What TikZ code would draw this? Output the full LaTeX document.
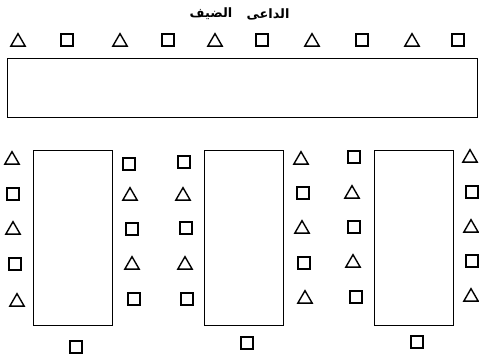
\documentclass[tikz,border=0pt]{standalone}
\usepackage{fontspec}
\newfontfamily\arabicfont[Script=Arabic]{DejaVu Sans}
\TeXXeTstate=1
\usetikzlibrary{shapes.geometric}

\begin{document}
\begin{tikzpicture}[x=0.03cm, y=-0.03cm, every node/.style={inner sep=0}, sq/.style={draw,line width=1.2pt,rectangle,minimum size=0.35cm}, tri/.style={draw,line width=1.2pt,regular polygon,regular polygon sides=3,minimum size=0.5cm}, desk/.style={draw,line width=0.8pt}, lbl/.style={font=\arabicfont\bfseries\fontsize{11}{13}\selectfont}]
\useasboundingbox (0,0) rectangle (479,357);
% title
\node[lbl] (guest) at (211,14) {\beginR الضيف\endR};
\node[lbl] (host) at (268,14) {\beginR الداعى\endR};
% head table and its row
\node[desk,minimum width=14.1cm,minimum height=1.77cm] (head) at (242,87.5) {};
\foreach \x [count=\i] in {18,120,215,312,412} \node[tri] (ht\i) at (\x,42) {};
\foreach \x [count=\i] in {67,168,262,362,458} \node[sq] (hs\i) at (\x,40) {};
% side tables
\node[desk,minimum width=2.37cm,minimum height=5.25cm] (deskA) at (72.5,237.5) {};
\node[desk,minimum width=2.37cm,minimum height=5.25cm] (deskB) at (243.5,237.5) {};
\node[desk,minimum width=2.37cm,minimum height=5.25cm] (deskC) at (414,237.5) {};
% seats along the side tables
\foreach \x/\y/\s [count=\i] in {12/160/tri,13/194/sq,13/230/tri,15/264/sq,17/302/tri,
  129/164/sq,130/196/tri,132/229/sq,132/265/tri,134/299/sq,
  184/162/sq,183/196/tri,186/228/sq,185/265/tri,187/299/sq,
  301/160/tri,303/193/sq,302/229/tri,304/263/sq,305/299/tri,
  354/157/sq,352/194/tri,354/227/sq,353/263/tri,356/297/sq,
  470/158/tri,472/192/sq,471/228/tri,472/261/sq,471/297/tri}
  \node[\s] (s\i) at (\x,\y) {};
% seats at the table ends
\node[sq] (endA) at (76,347) {};
\node[sq] (endB) at (247,343) {};
\node[sq] (endC) at (417,342) {};
\end{tikzpicture}
\end{document}
